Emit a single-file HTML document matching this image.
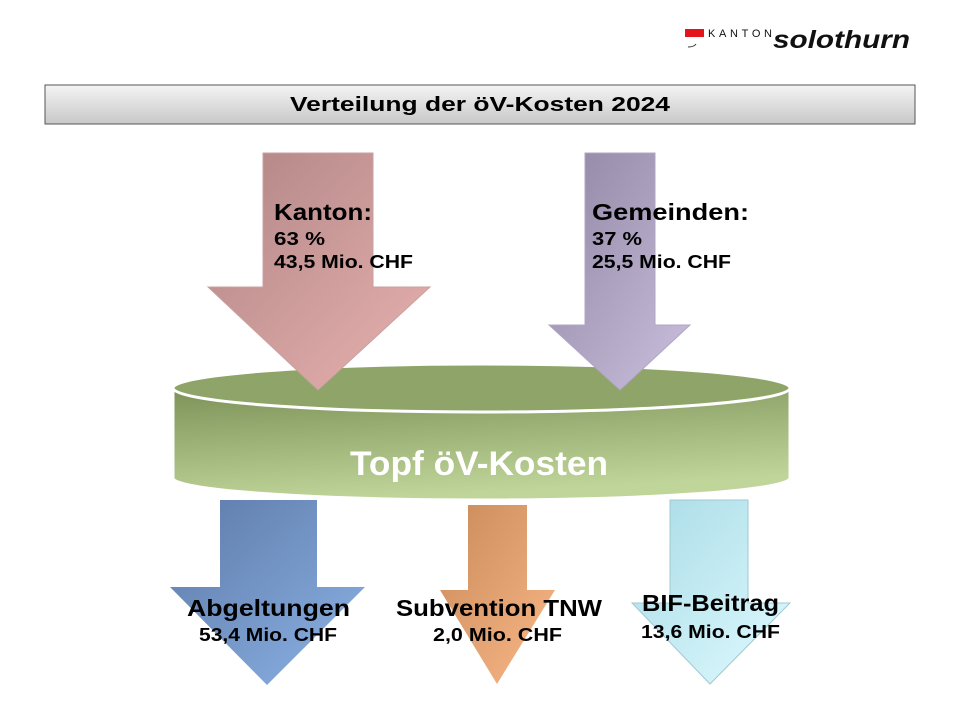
<!DOCTYPE html>
<html><head><meta charset="utf-8"><style>
body{margin:0;width:960px;height:720px;background:#fff;overflow:hidden;font-family:"Liberation Sans",sans-serif}
</style></head><body>
<svg width="960" height="720" viewBox="0 0 960 720" xmlns="http://www.w3.org/2000/svg" style="position:absolute;left:0;top:0">
<defs>
<linearGradient id="tb" x1="0" y1="0" x2="0" y2="1"><stop offset="0" stop-color="#f4f4f4"/><stop offset="1" stop-color="#c8c8c8"/></linearGradient>
<linearGradient id="red" x1="0" y1="0" x2="1" y2="1"><stop offset="0" stop-color="#b08585"/><stop offset="1" stop-color="#e8b2b0"/></linearGradient>
<linearGradient id="pur" x1="0" y1="0" x2="1" y2="1"><stop offset="0" stop-color="#8f86a3"/><stop offset="1" stop-color="#cbc0de"/></linearGradient>
<linearGradient id="grn" x1="0" y1="0" x2="0.3" y2="1"><stop offset="0" stop-color="#7d9258"/><stop offset="1" stop-color="#c0d59a"/></linearGradient>
<linearGradient id="blu" x1="0" y1="0" x2="1" y2="1"><stop offset="0" stop-color="#5d7aa8"/><stop offset="1" stop-color="#8cb3e6"/></linearGradient>
<linearGradient id="org" x1="0" y1="0" x2="1" y2="1"><stop offset="0" stop-color="#c98a5a"/><stop offset="1" stop-color="#fbb888"/></linearGradient>
<linearGradient id="cya" x1="0" y1="0" x2="1" y2="1"><stop offset="0" stop-color="#a9dbe6"/><stop offset="1" stop-color="#dffaff"/></linearGradient>
</defs>
<!-- logo -->
<rect x="685" y="29" width="19" height="8" fill="#e5141b"/>
<path d="M688 47 q6 0 8 -3" stroke="#333" fill="none" stroke-width="1"/>
<text x="708" y="37" font-size="11" textLength="64" lengthAdjust="spacing" fill="#111">KANTON</text>
<text x="773" y="48" font-size="25" font-weight="bold" font-style="italic" textLength="137" lengthAdjust="spacingAndGlyphs" fill="#111">solothurn</text>
<!-- title -->
<rect x="45" y="85" width="870" height="39" fill="url(#tb)" stroke="#555" stroke-width="1"/>
<text x="290" y="111" font-size="20" font-weight="bold" textLength="380" lengthAdjust="spacingAndGlyphs" fill="#000">Verteilung der öV-Kosten 2024</text>
<!-- cylinder -->
<path d="M173 388 L173 478 A308.5 22 0 0 0 790 478 L790 388 Z" fill="url(#grn)" stroke="#fff" stroke-width="3"/>
<ellipse cx="481.5" cy="388" rx="308.5" ry="24" fill="#8ea468" stroke="#fff" stroke-width="3"/>
<!-- top arrows -->
<polygon points="263,153 373,153 373,287 430,287 318,390 208,287 263,287" fill="url(#red)" stroke="#c9a1a0" stroke-width="1"/>
<polygon points="585,153 655,153 655,325 690,325 620,390 549,325 585,325" fill="url(#pur)" stroke="#b0a6c4" stroke-width="1"/>
<text x="350" y="475" font-size="34" font-weight="bold" textLength="258" lengthAdjust="spacingAndGlyphs" fill="#fff">Topf öV-Kosten</text>
<!-- bottom arrows -->
<polygon points="220,500 317,500 317,587 365,587 267,685 170,587 220,587" fill="url(#blu)"/>
<polygon points="468,505 527,505 527,590 555,590 497,684 440,590 468,590" fill="url(#org)"/>
<polygon points="670,500 748,500 748,603 790,603 710,684 632,603 670,603" fill="url(#cya)" stroke="#9fc9d2" stroke-width="1"/>
<g font-weight="bold" fill="#000" lengthAdjust="spacingAndGlyphs">
<text x="274" y="220" font-size="23" textLength="98" lengthAdjust="spacingAndGlyphs">Kanton:</text>
<text x="274" y="245" font-size="18" textLength="51" lengthAdjust="spacingAndGlyphs">63 %</text>
<text x="274" y="268" font-size="18" textLength="139" lengthAdjust="spacingAndGlyphs">43,5 Mio. CHF</text>
<text x="592" y="220" font-size="23" textLength="157" lengthAdjust="spacingAndGlyphs">Gemeinden:</text>
<text x="592" y="245" font-size="18" textLength="50" lengthAdjust="spacingAndGlyphs">37 %</text>
<text x="592" y="268" font-size="18" textLength="139" lengthAdjust="spacingAndGlyphs">25,5 Mio. CHF</text>
<text x="187" y="616" font-size="23" textLength="163" lengthAdjust="spacingAndGlyphs">Abgeltungen</text>
<text x="199" y="641" font-size="18" textLength="138" lengthAdjust="spacingAndGlyphs">53,4 Mio. CHF</text>
<text x="396" y="616" font-size="23" textLength="206" lengthAdjust="spacingAndGlyphs">Subvention TNW</text>
<text x="433" y="641" font-size="18" textLength="129" lengthAdjust="spacingAndGlyphs">2,0 Mio. CHF</text>
<text x="642" y="611" font-size="23" textLength="137" lengthAdjust="spacingAndGlyphs">BIF-Beitrag</text>
<text x="641" y="638" font-size="18" textLength="139" lengthAdjust="spacingAndGlyphs">13,6 Mio. CHF</text>
</g>
</svg>
</body></html>
